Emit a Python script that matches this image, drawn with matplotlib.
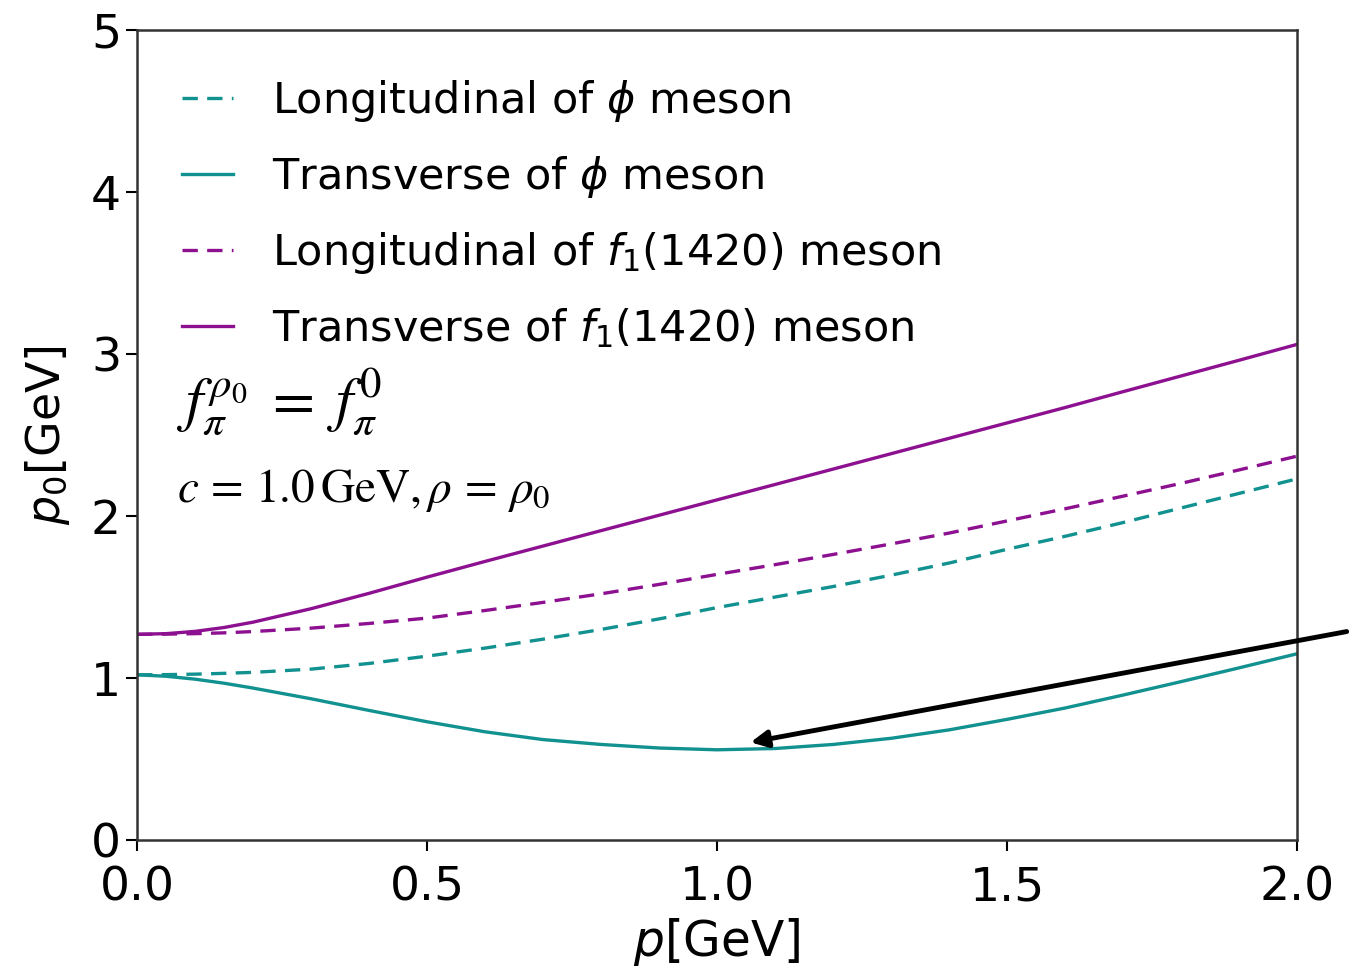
import matplotlib
matplotlib.use('Agg')
import matplotlib.pyplot as plt

# momentum grid p [GeV]
p = [0.0, 0.05, 0.1, 0.15, 0.2, 0.3, 0.4, 0.5, 0.6, 0.7, 0.8, 0.9, 1.0,
     1.1, 1.2, 1.3, 1.4, 1.5, 1.6, 1.7, 1.8, 1.9, 2.0]

# p0 [GeV]
long_phi = [1.02, 1.021, 1.024, 1.029, 1.035, 1.055, 1.09, 1.135, 1.185, 1.24, 1.30, 1.365, 1.435,
            1.50, 1.565, 1.635, 1.71, 1.795, 1.875, 1.96, 2.05, 2.14, 2.23]
trans_phi = [1.02, 1.011, 0.993, 0.968, 0.938, 0.872, 0.80, 0.73, 0.668, 0.62, 0.59, 0.568, 0.557,
             0.565, 0.59, 0.628, 0.68, 0.745, 0.815, 0.895, 0.978, 1.063, 1.15]
long_f1 = [1.27, 1.271, 1.274, 1.279, 1.287, 1.308, 1.337, 1.37, 1.417, 1.467, 1.52, 1.578, 1.64,
           1.70, 1.763, 1.828, 1.895, 1.97, 2.045, 2.123, 2.202, 2.285, 2.37]
trans_f1 = [1.27, 1.274, 1.288, 1.312, 1.345, 1.428, 1.523, 1.623, 1.72, 1.815, 1.91, 2.005, 2.10,
            2.195, 2.29, 2.385, 2.48, 2.575, 2.67, 2.768, 2.865, 2.962, 3.06]

labels = [r'Longitudinal of $\phi$ meson',
          r'Transverse of $\phi$ meson',
          r'Longitudinal of $f_1(1420)$ meson',
          r'Transverse of $f_1(1420)$ meson']

teal = '#11918f'
purple = '#8c108f'

fig = plt.figure(figsize=(13.49, 9.77), dpi=100)
ax = fig.add_axes([0.1016, 0.1402, 0.860, 0.829])

lw = 2.4
ax.plot(p, long_phi, color=teal, lw=lw, linestyle='--', dashes=(4.6, 2.8), label=labels[0])
ax.plot(p, trans_phi, color=teal, lw=lw, label=labels[1])
ax.plot(p, long_f1, color=purple, lw=lw, linestyle='--', dashes=(4.6, 2.8), label=labels[2])
ax.plot(p, trans_f1, color=purple, lw=lw, label=labels[3])

ax.set_xlim(0, 2)
ax.set_ylim(0, 5)
ax.set_xticks([0.0, 0.5, 1.0, 1.5, 2.0])
ax.set_yticks([0, 1, 2, 3, 4, 5])
ax.tick_params(labelsize=34, length=8, width=1.5)
ax.tick_params(axis='x', pad=10)
for s in ax.spines.values():
    s.set_linewidth(1.8)
    s.set_color('#333333')

ax.set_xlabel(r'$p$[GeV]', fontsize=35, labelpad=4)
ax.set_ylabel(r'$p_0$[GeV]', fontsize=33, labelpad=14)

ax.legend(loc='upper left', bbox_to_anchor=(0.002, 0.993), frameon=False,
          fontsize=31, handlelength=1.2, handletextpad=0.9, labelspacing=0.7,
          borderaxespad=0.58)

ax.text(0.034, 0.541, r'$f_\pi^{\rho_0} \;=\; f_\pi^0$', transform=ax.transAxes,
        fontsize=44, va='center', ha='left', math_fontfamily='stix')
ax.text(0.034, 0.432, r'$c\, =\, 1.0\,\mathrm{GeV}, \rho\, =\, \rho_0$', transform=ax.transAxes,
        fontsize=34, va='center', ha='left', math_fontfamily='stix')

ax.annotate('', xy=(1.053, 0.60), xytext=(2.09, 1.29),
            arrowprops=dict(arrowstyle='-|>', color='black', lw=3.5, mutation_scale=25),
            annotation_clip=False)

fig.savefig('out.png', dpi=100)
